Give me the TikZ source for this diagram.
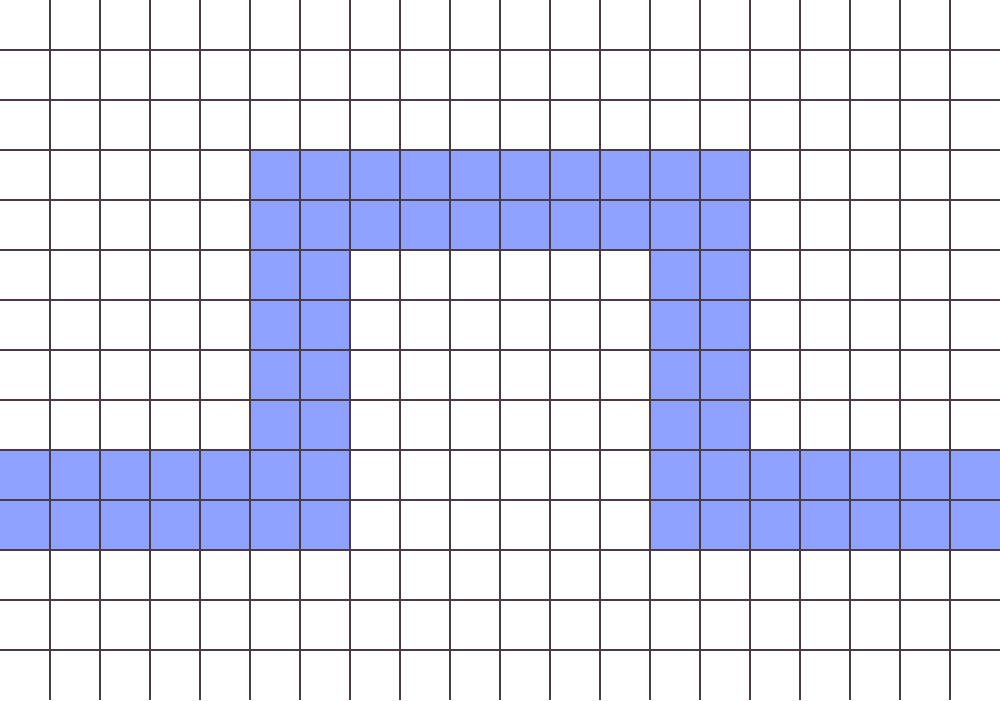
\documentclass[tikz,border=0pt]{standalone}
\begin{document}
\begin{tikzpicture}[x=0.5cm,y=-0.5cm,
  gridline/.style={draw=gridC,line width=0.35pt}]
\definecolor{blueF}{HTML}{8FA2FF}
\definecolor{gridC}{HTML}{4A3A45}
\useasboundingbox (0,0) rectangle (20,14);
\fill[blueF] (5,3) rectangle (15,5);
\fill[blueF] (5,5) rectangle (7,9);
\fill[blueF] (13,5) rectangle (15,9);
\fill[blueF] (0,9) rectangle (7,11);
\fill[blueF] (13,9) rectangle (20,11);
\foreach \i in {1,...,19} \draw[gridline] (\i,0) -- (\i,14);
\foreach \j in {1,...,13} \draw[gridline] (0,\j) -- (20,\j);
\end{tikzpicture}
\end{document}
